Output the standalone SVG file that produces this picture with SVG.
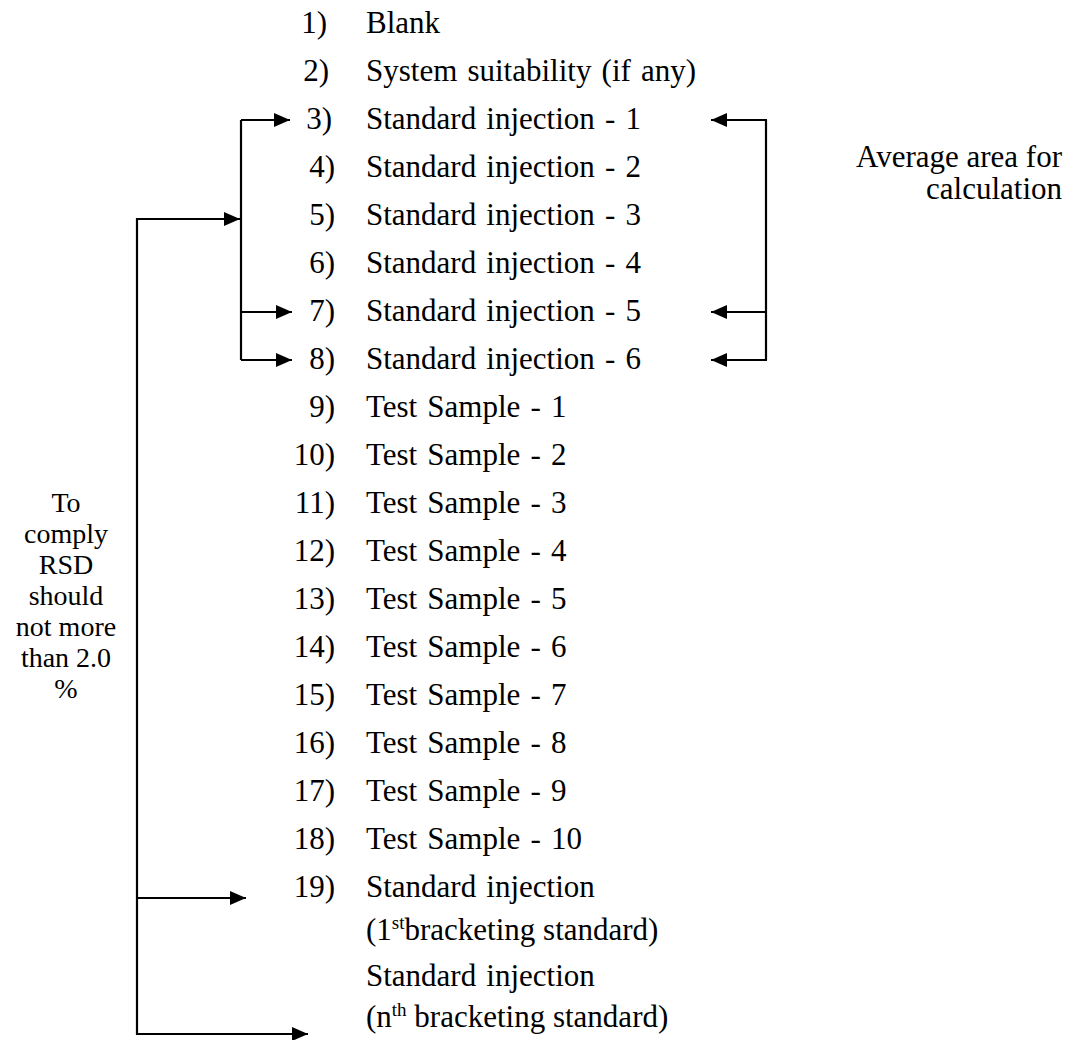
<svg xmlns="http://www.w3.org/2000/svg" width="1075" height="1040" viewBox="0 0 1075 1040">
<style>
text{font-family:"Liberation Serif","Times New Roman",serif;font-size:31px;fill:#000}
.t{word-spacing:2.4px}
.n{text-anchor:end}
.c{text-anchor:middle;font-size:28px}
.r{text-anchor:end}
.sup{font-size:19px}
line{stroke:#000;stroke-width:2.2;fill:none}
polygon{fill:#000}
</style>
<defs>
<marker id="ah" viewBox="0 0 16 14" refX="16" refY="7" markerWidth="16" markerHeight="14" markerUnits="userSpaceOnUse" orient="auto">
<polygon points="0,0 16,7 0,14"/>
</marker>
</defs>
<rect width="1075" height="1040" fill="#fff"/>
<g id="list">
<g id="row1"><text class="n" x="327" y="33">1)</text><text class="t" x="366" y="33">Blank</text></g>
<g id="row2"><text class="n" x="329" y="81">2)</text><text class="t" x="366" y="81">System suitability (if any)</text></g>
<g id="row3"><text class="n" x="332" y="129">3)</text><text class="t" x="366" y="129">Standard injection - 1</text></g>
<g id="row4"><text class="n" x="335" y="177">4)</text><text class="t" x="366" y="177">Standard injection - 2</text></g>
<g id="row5"><text class="n" x="335" y="225">5)</text><text class="t" x="366" y="225">Standard injection - 3</text></g>
<g id="row6"><text class="n" x="335" y="273">6)</text><text class="t" x="366" y="273">Standard injection - 4</text></g>
<g id="row7"><text class="n" x="335" y="321">7)</text><text class="t" x="366" y="321">Standard injection - 5</text></g>
<g id="row8"><text class="n" x="335" y="369">8)</text><text class="t" x="366" y="369">Standard injection - 6</text></g>
<g id="row9"><text class="n" x="335" y="417">9)</text><text class="t" x="366" y="417">Test Sample - 1</text></g>
<g id="row10"><text class="n" x="335" y="465">10)</text><text class="t" x="366" y="465">Test Sample - 2</text></g>
<g id="row11"><text class="n" x="335" y="513">11)</text><text class="t" x="366" y="513">Test Sample - 3</text></g>
<g id="row12"><text class="n" x="335" y="561">12)</text><text class="t" x="366" y="561">Test Sample - 4</text></g>
<g id="row13"><text class="n" x="335" y="609">13)</text><text class="t" x="366" y="609">Test Sample - 5</text></g>
<g id="row14"><text class="n" x="335" y="657">14)</text><text class="t" x="366" y="657">Test Sample - 6</text></g>
<g id="row15"><text class="n" x="335" y="705">15)</text><text class="t" x="366" y="705">Test Sample - 7</text></g>
<g id="row16"><text class="n" x="335" y="753">16)</text><text class="t" x="366" y="753">Test Sample - 8</text></g>
<g id="row17"><text class="n" x="335" y="801">17)</text><text class="t" x="366" y="801">Test Sample - 9</text></g>
<g id="row18"><text class="n" x="335" y="849">18)</text><text class="t" x="366" y="849">Test Sample - 10</text></g>
<g id="row19"><text class="n" x="335" y="897">19)</text><text class="t" x="366" y="897">Standard injection</text><text x="366" y="940">(1<tspan class="sup" dy="-11">st</tspan><tspan dy="11">bracketing standard)</tspan></text></g>
<g id="rowN"><text class="t" x="366" y="986">Standard injection</text><text x="366" y="1027">(n<tspan class="sup" dy="-11">th</tspan><tspan dy="11"> bracketing standard)</tspan></text></g>
</g>
<g id="avg-label"><text class="r" x="1062" y="167">Average area for</text><text class="r" x="1062" y="199">calculation</text></g>
<g id="rsd-label">
<text class="c" x="66" y="512">To</text>
<text class="c" x="66" y="543">comply</text>
<text class="c" x="66" y="574">RSD</text>
<text class="c" x="66" y="605">should</text>
<text class="c" x="66" y="636">not more</text>
<text class="c" x="66" y="667">than 2.0</text>
<text class="c" x="66" y="698">%</text>
</g>
<g id="connectors">
<line x1="241" y1="120" x2="241" y2="360"/>
<line x1="241" y1="120" x2="290" y2="120" marker-end="url(#ah)"/>
<line x1="241" y1="312" x2="292" y2="312" marker-end="url(#ah)"/>
<line x1="241" y1="360" x2="292" y2="360" marker-end="url(#ah)"/>
<line x1="766" y1="120" x2="766" y2="360"/>
<line x1="767" y1="120" x2="711" y2="120" marker-end="url(#ah)"/>
<line x1="767" y1="312" x2="711" y2="312" marker-end="url(#ah)"/>
<line x1="767" y1="360" x2="711" y2="360" marker-end="url(#ah)"/>
<line x1="137" y1="218" x2="137" y2="1035"/>
<line x1="136" y1="219" x2="240" y2="219" marker-end="url(#ah)"/>
<line x1="136" y1="898" x2="246" y2="898" marker-end="url(#ah)"/>
<line x1="136" y1="1034" x2="308" y2="1034" marker-end="url(#ah)"/>
</g>
</svg>
